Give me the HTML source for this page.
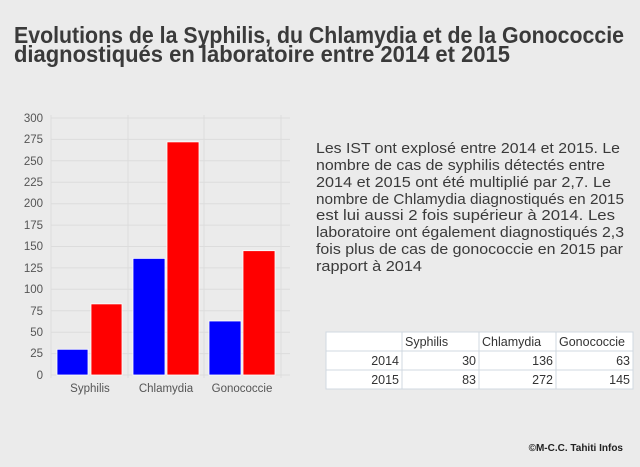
<!DOCTYPE html>
<html><head><meta charset="utf-8"><style>
html,body{margin:0;padding:0;}
body{width:640px;height:467px;background:#ececec;overflow:hidden;}
svg{display:block;}
</style></head><body>
<svg width="640" height="467" viewBox="0 0 640 467" xmlns="http://www.w3.org/2000/svg">
<rect width="640" height="467" fill="#ebebeb"/>
<g font-family="'Liberation Sans Narrow','Liberation Sans',sans-serif" font-weight="bold" font-size="23" fill="#3a3a3a">
<text x="14" y="43" textLength="610" lengthAdjust="spacingAndGlyphs">Evolutions de la Syphilis, du Chlamydia et de la Gonococcie</text>
<text x="14" y="62" textLength="496" lengthAdjust="spacingAndGlyphs">diagnostiqués en laboratoire entre 2014 et 2015</text>
</g>
<g stroke="#dcdcdc" stroke-width="1">
<line x1="51" y1="118" x2="290" y2="118"/><line x1="51" y1="139.4" x2="290" y2="139.4"/>
<line x1="51" y1="160.8" x2="290" y2="160.8"/><line x1="51" y1="182.3" x2="290" y2="182.3"/>
<line x1="51" y1="203.7" x2="290" y2="203.7"/><line x1="51" y1="225.1" x2="290" y2="225.1"/>
<line x1="51" y1="246.5" x2="290" y2="246.5"/><line x1="51" y1="267.9" x2="290" y2="267.9"/>
<line x1="51" y1="289.3" x2="290" y2="289.3"/><line x1="51" y1="310.8" x2="290" y2="310.8"/>
<line x1="51" y1="332.2" x2="290" y2="332.2"/><line x1="51" y1="353.6" x2="290" y2="353.6"/>
<line x1="51" y1="375" x2="290" y2="375"/>
<line x1="51" y1="115" x2="51" y2="378"/><line x1="128" y1="115" x2="128" y2="378"/><line x1="204" y1="115" x2="204" y2="378"/><line x1="281" y1="115" x2="281" y2="378"/>
</g>
<g font-family="'Liberation Sans',sans-serif" font-size="11.5" fill="#555" text-anchor="end">
<text x="43" y="122">300</text><text x="43" y="143">275</text><text x="43" y="165">250</text>
<text x="43" y="186">225</text><text x="43" y="207">200</text><text x="43" y="229">175</text>
<text x="43" y="250">150</text><text x="43" y="272">125</text><text x="43" y="293">100</text>
<text x="43" y="315">75</text><text x="43" y="336">50</text><text x="43" y="357">25</text>
<text x="43" y="379">0</text>
</g>
<g stroke="#fff" stroke-width="0.8">
<rect x="57" y="349.3" width="31" height="25.7" fill="#0000ff"/>
<rect x="91" y="303.9" width="31" height="71.1" fill="#ff0000"/>
<rect x="133" y="258.4" width="32" height="116.6" fill="#0000ff"/>
<rect x="167" y="141.9" width="32" height="233.1" fill="#ff0000"/>
<rect x="209" y="321" width="32" height="54" fill="#0000ff"/>
<rect x="243" y="250.7" width="32" height="124.3" fill="#ff0000"/>
</g>
<g font-family="'Liberation Sans',sans-serif" font-size="11.5" fill="#555" text-anchor="middle">
<text x="90" y="392">Syphilis</text><text x="166" y="392">Chlamydia</text><text x="242" y="392">Gonococcie</text>
</g>
<g font-family="'Liberation Sans',sans-serif" font-size="15" fill="#3a3a3a">
<text x="316" y="153" textLength="304" lengthAdjust="spacingAndGlyphs">Les IST ont explosé entre 2014 et 2015. Le</text>
<text x="316" y="170" textLength="289" lengthAdjust="spacingAndGlyphs">nombre de cas de syphilis détectés entre</text>
<text x="316" y="187" textLength="295" lengthAdjust="spacingAndGlyphs">2014 et 2015 ont été multiplié par 2,7. Le</text>
<text x="316" y="204" textLength="308" lengthAdjust="spacingAndGlyphs">nombre de Chlamydia diagnostiqués en 2015</text>
<text x="316" y="220" textLength="299" lengthAdjust="spacingAndGlyphs">est lui aussi 2 fois supérieur à 2014. Les</text>
<text x="316" y="237" textLength="308" lengthAdjust="spacingAndGlyphs">laboratoire ont également diagnostiqués 2,3</text>
<text x="316" y="254" textLength="307" lengthAdjust="spacingAndGlyphs">fois plus de cas de gonococcie en 2015 par</text>
<text x="316" y="271" textLength="106" lengthAdjust="spacingAndGlyphs">rapport à 2014</text>
</g>
<rect x="326" y="332" width="307" height="57" fill="#fff" stroke="#d0d8e0"/>
<g stroke="#d0d8e0">
<line x1="326" y1="351" x2="633" y2="351"/><line x1="326" y1="370" x2="633" y2="370"/>
<line x1="402" y1="332" x2="402" y2="389"/><line x1="479" y1="332" x2="479" y2="389"/><line x1="556" y1="332" x2="556" y2="389"/>
</g>
<g font-family="'Liberation Sans',sans-serif" font-size="12.5" fill="#333">
<text x="405" y="346">Syphilis</text><text x="482" y="346">Chlamydia</text><text x="559" y="346">Gonococcie</text>
<g text-anchor="end">
<text x="399" y="365">2014</text><text x="476" y="365">30</text><text x="553" y="365">136</text><text x="630" y="365">63</text>
<text x="399" y="384">2015</text><text x="476" y="384">83</text><text x="553" y="384">272</text><text x="630" y="384">145</text>
</g>
</g>
<text x="623" y="451" text-anchor="end" font-family="'Liberation Sans',sans-serif" font-weight="bold" font-size="10" fill="#222">©M-C.C. Tahiti Infos</text>
</svg>
</body></html>
